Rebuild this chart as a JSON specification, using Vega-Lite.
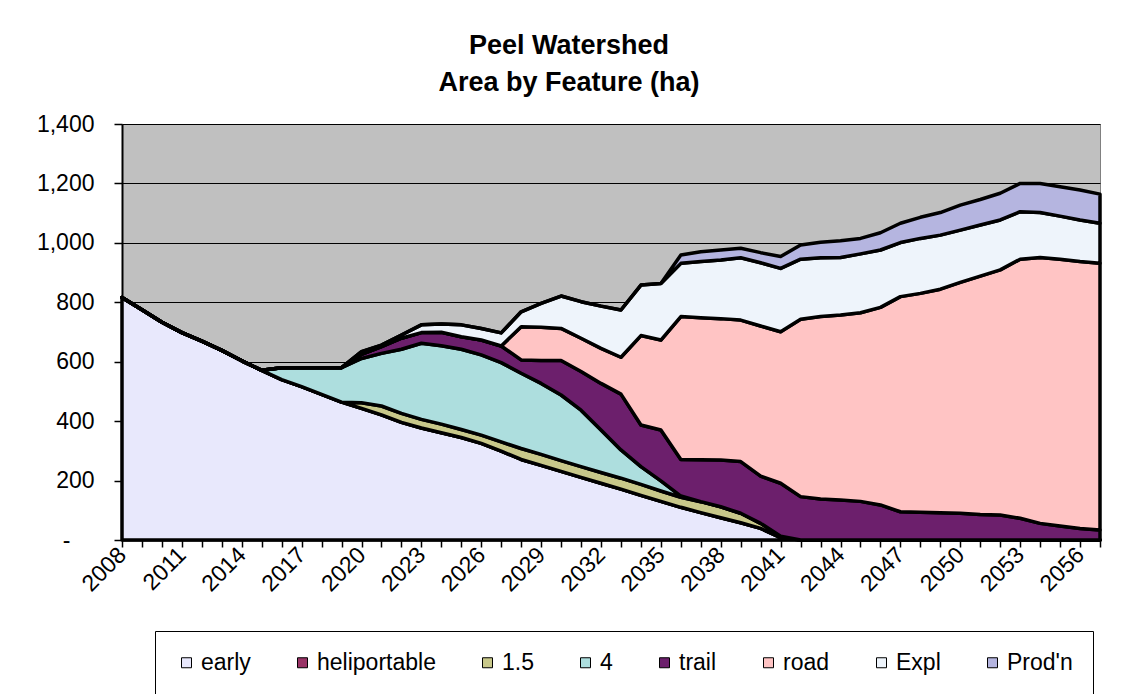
{
  "$schema": "https://vega.github.io/schema/vega-lite/v6.json",
  "width": 978,
  "height": 416,
  "autosize": {"type": "none"},
  "padding": {"left": 122, "top": 124, "right": 38, "bottom": 154},
  "background": "white",
  "config": {
    "font": "Liberation Sans, Arial, sans-serif",
    "view": {"fill": "#C0C0C0", "stroke": "#808080", "strokeWidth": 1}
  },
  "title": {
    "text": ["Peel Watershed", "Area by Feature (ha)"],
    "fontSize": 27,
    "fontWeight": "bold",
    "color": "black",
    "lineHeight": 37,
    "anchor": "middle",
    "frame": "group",
    "dx": -42,
    "offset": 16
  },
  "datasets": {
    "features": [
      {"k": "early", "feature": "early", "rank": 1},
      {"k": "heliportable", "feature": "heliportable", "rank": 2},
      {"k": "p1_5", "feature": "1.5", "rank": 3},
      {"k": "p4", "feature": "4", "rank": 4},
      {"k": "trail", "feature": "trail", "rank": 5},
      {"k": "road", "feature": "road", "rank": 6},
      {"k": "Expl", "feature": "Expl", "rank": 7},
      {"k": "Prodn", "feature": "Prod'n", "rank": 8}
    ]
  },
  "data": {
    "values": [
      {"year": 2008, "early": 816, "heliportable": 0, "p1_5": 0, "p4": 0, "trail": 0, "road": 0, "Expl": 0, "Prodn": 0},
      {"year": 2009, "early": 775, "heliportable": 0, "p1_5": 0, "p4": 0, "trail": 0, "road": 0, "Expl": 0, "Prodn": 0},
      {"year": 2010, "early": 733, "heliportable": 0, "p1_5": 0, "p4": 0, "trail": 0, "road": 0, "Expl": 0, "Prodn": 0},
      {"year": 2011, "early": 698, "heliportable": 0, "p1_5": 0, "p4": 0, "trail": 0, "road": 0, "Expl": 0, "Prodn": 0},
      {"year": 2012, "early": 669, "heliportable": 0, "p1_5": 0, "p4": 0, "trail": 0, "road": 0, "Expl": 0, "Prodn": 0},
      {"year": 2013, "early": 638, "heliportable": 0, "p1_5": 0, "p4": 0, "trail": 0, "road": 0, "Expl": 0, "Prodn": 0},
      {"year": 2014, "early": 603, "heliportable": 0, "p1_5": 0, "p4": 0, "trail": 0, "road": 0, "Expl": 0, "Prodn": 0},
      {"year": 2015, "early": 571, "heliportable": 0, "p1_5": 0, "p4": 0, "trail": 0, "road": 0, "Expl": 0, "Prodn": 0},
      {"year": 2016, "early": 540, "heliportable": 0, "p1_5": 0, "p4": 40, "trail": 0, "road": 0, "Expl": 0, "Prodn": 0},
      {"year": 2017, "early": 516, "heliportable": 0, "p1_5": 0, "p4": 64, "trail": 0, "road": 0, "Expl": 0, "Prodn": 0},
      {"year": 2018, "early": 490, "heliportable": 0, "p1_5": 0, "p4": 90, "trail": 0, "road": 0, "Expl": 0, "Prodn": 0},
      {"year": 2019, "early": 464, "heliportable": 0, "p1_5": 0, "p4": 116, "trail": 0, "road": 0, "Expl": 0, "Prodn": 0},
      {"year": 2020, "early": 443, "heliportable": 0, "p1_5": 19, "p4": 149, "trail": 14, "road": 0, "Expl": 9, "Prodn": 0},
      {"year": 2021, "early": 421, "heliportable": 0, "p1_5": 30, "p4": 177, "trail": 23, "road": 0, "Expl": 5, "Prodn": 0},
      {"year": 2022, "early": 396, "heliportable": 0, "p1_5": 30, "p4": 216, "trail": 37, "road": 0, "Expl": 11, "Prodn": 0},
      {"year": 2023, "early": 377, "heliportable": 0, "p1_5": 29, "p4": 256, "trail": 36, "road": 0, "Expl": 26, "Prodn": 0},
      {"year": 2024, "early": 361, "heliportable": 0, "p1_5": 29, "p4": 264, "trail": 45, "road": 0, "Expl": 28, "Prodn": 0},
      {"year": 2025, "early": 345, "heliportable": 0, "p1_5": 27, "p4": 270, "trail": 42, "road": 0, "Expl": 40, "Prodn": 0},
      {"year": 2026, "early": 325, "heliportable": 0, "p1_5": 28, "p4": 270, "trail": 50, "road": 0, "Expl": 39, "Prodn": 0},
      {"year": 2027, "early": 299, "heliportable": 0, "p1_5": 31, "p4": 267, "trail": 56, "road": 0, "Expl": 44, "Prodn": 0},
      {"year": 2028, "early": 271, "heliportable": 0, "p1_5": 37, "p4": 253, "trail": 45, "road": 112, "Expl": 50, "Prodn": 0},
      {"year": 2029, "early": 251, "heliportable": 0, "p1_5": 37, "p4": 239, "trail": 77, "road": 112, "Expl": 80, "Prodn": 0},
      {"year": 2030, "early": 231, "heliportable": 0, "p1_5": 36, "p4": 221, "trail": 116, "road": 108, "Expl": 109, "Prodn": 0},
      {"year": 2031, "early": 211, "heliportable": 0, "p1_5": 36, "p4": 190, "trail": 130, "road": 112, "Expl": 123, "Prodn": 0},
      {"year": 2032, "early": 191, "heliportable": 0, "p1_5": 36, "p4": 143, "trail": 157, "road": 118, "Expl": 142, "Prodn": 0},
      {"year": 2033, "early": 171, "heliportable": 0, "p1_5": 37, "p4": 95, "trail": 188, "road": 124, "Expl": 159, "Prodn": 0},
      {"year": 2034, "early": 150, "heliportable": 0, "p1_5": 37, "p4": 60, "trail": 140, "road": 301, "Expl": 170, "Prodn": 0},
      {"year": 2035, "early": 130, "heliportable": 0, "p1_5": 35, "p4": 34, "trail": 171, "road": 303, "Expl": 190, "Prodn": 0},
      {"year": 2036, "early": 110, "heliportable": 0, "p1_5": 34, "p4": 4, "trail": 123, "road": 481, "Expl": 179, "Prodn": 28},
      {"year": 2037, "early": 92, "heliportable": 0, "p1_5": 37, "p4": 0, "trail": 141, "road": 478, "Expl": 189, "Prodn": 33},
      {"year": 2038, "early": 75, "heliportable": 0, "p1_5": 37, "p4": 0, "trail": 157, "road": 476, "Expl": 197, "Prodn": 34},
      {"year": 2039, "early": 58, "heliportable": 0, "p1_5": 32, "p4": 0, "trail": 174, "road": 476, "Expl": 210, "Prodn": 32},
      {"year": 2040, "early": 39, "heliportable": 0, "p1_5": 17, "p4": 0, "trail": 159, "road": 505, "Expl": 213, "Prodn": 34},
      {"year": 2041, "early": 8, "heliportable": 0, "p1_5": 5, "p4": 0, "trail": 178, "road": 510, "Expl": 213, "Prodn": 40},
      {"year": 2042, "early": 0, "heliportable": 0, "p1_5": 0, "p4": 0, "trail": 146, "road": 597, "Expl": 202, "Prodn": 48},
      {"year": 2043, "early": 0, "heliportable": 0, "p1_5": 0, "p4": 0, "trail": 138, "road": 614, "Expl": 198, "Prodn": 52},
      {"year": 2044, "early": 0, "heliportable": 0, "p1_5": 0, "p4": 0, "trail": 135, "road": 622, "Expl": 194, "Prodn": 56},
      {"year": 2045, "early": 0, "heliportable": 0, "p1_5": 0, "p4": 0, "trail": 130, "road": 635, "Expl": 198, "Prodn": 52},
      {"year": 2046, "early": 0, "heliportable": 0, "p1_5": 0, "p4": 0, "trail": 118, "road": 665, "Expl": 193, "Prodn": 58},
      {"year": 2047, "early": 0, "heliportable": 0, "p1_5": 0, "p4": 0, "trail": 95, "road": 724, "Expl": 182, "Prodn": 65},
      {"year": 2048, "early": 0, "heliportable": 0, "p1_5": 0, "p4": 0, "trail": 93, "road": 737, "Expl": 185, "Prodn": 71},
      {"year": 2049, "early": 0, "heliportable": 0, "p1_5": 0, "p4": 0, "trail": 92, "road": 752, "Expl": 182, "Prodn": 76},
      {"year": 2050, "early": 0, "heliportable": 0, "p1_5": 0, "p4": 0, "trail": 90, "road": 777, "Expl": 176, "Prodn": 84},
      {"year": 2051, "early": 0, "heliportable": 0, "p1_5": 0, "p4": 0, "trail": 86, "road": 802, "Expl": 172, "Prodn": 86},
      {"year": 2052, "early": 0, "heliportable": 0, "p1_5": 0, "p4": 0, "trail": 84, "road": 825, "Expl": 168, "Prodn": 90},
      {"year": 2053, "early": 0, "heliportable": 0, "p1_5": 0, "p4": 0, "trail": 73, "road": 872, "Expl": 160, "Prodn": 95},
      {"year": 2054, "early": 0, "heliportable": 0, "p1_5": 0, "p4": 0, "trail": 56, "road": 895, "Expl": 151, "Prodn": 98},
      {"year": 2055, "early": 0, "heliportable": 0, "p1_5": 0, "p4": 0, "trail": 47, "road": 898, "Expl": 145, "Prodn": 99},
      {"year": 2056, "early": 0, "heliportable": 0, "p1_5": 0, "p4": 0, "trail": 39, "road": 898, "Expl": 140, "Prodn": 101},
      {"year": 2057, "early": 0, "heliportable": 0, "p1_5": 0, "p4": 0, "trail": 34, "road": 897, "Expl": 135, "Prodn": 98}
    ]
  },
  "transform": [
    {"fold": ["early", "heliportable", "p1_5", "p4", "trail", "road", "Expl", "Prodn"], "as": ["k", "ha"]},
    {"lookup": "k", "from": {"data": {"name": "features"}, "key": "k", "fields": ["feature", "rank"]}}
  ],
  "mark": {"type": "area", "stroke": "black", "strokeWidth": 3.5, "strokeJoin": "round", "opacity": 1, "fillOpacity": 1},
  "encoding": {
    "x": {
      "field": "year",
      "type": "quantitative",
      "scale": {"domain": [2008, 2057], "nice": false, "zero": false},
      "axis": {
        "title": null,
        "values": [2008,2009,2010,2011,2012,2013,2014,2015,2016,2017,2018,2019,2020,2021,2022,2023,2024,2025,2026,2027,2028,2029,2030,2031,2032,2033,2034,2035,2036,2037,2038,2039,2040,2041,2042,2043,2044,2045,2046,2047,2048,2049,2050,2051,2052,2053,2054,2055,2056,2057],
        "labelExpr": "(datum.value - 2008) % 3 === 0 ? datum.value + '' : ''",
        "labelAngle": -45,
        "labelAlign": "right",
        "labelBaseline": "middle",
        "labelFontSize": 23,
        "labelColor": "black",
        "labelPadding": 4,
        "labelOverlap": false,
        "labelFlush": false,
        "domainColor": "black",
        "domainWidth": 2,
        "tickColor": "black",
        "tickSize": 7,
        "tickWidth": 1.5,
        "grid": false
      }
    },
    "y": {
      "field": "ha",
      "type": "quantitative",
      "stack": "zero",
      "scale": {"domain": [0, 1400], "nice": false},
      "axis": {
        "title": null,
        "values": [0, 200, 400, 600, 800, 1000, 1200, 1400],
        "labelExpr": "datum.value === 0 ? '-' : format(datum.value, ',')",
        "labelFontSize": 23,
        "labelColor": "black",
        "labelPadding": {"condition": {"test": "datum.value === 0", "value": 44}, "value": 20},
        "domainColor": "black",
        "domainWidth": 2,
        "tickColor": "black",
        "tickSize": 8,
        "tickWidth": 1.5,
        "grid": true,
        "gridColor": "black",
        "gridWidth": 1
      }
    },
    "color": {
      "field": "feature",
      "type": "nominal",
      "scale": {
        "domain": ["early", "heliportable", "1.5", "4", "trail", "road", "Expl", "Prod'n"],
        "range": ["#E8E8FC", "#993366", "#C8C88A", "#ADDEDE", "#6C1F6C", "#FFC4C4", "#EEF4FB", "#B5B5E0"]
      },
      "legend": {
        "title": null,
        "orient": "none",
        "legendX": 33,
        "legendY": 507,
        "direction": "horizontal",
        "columns": 8,
        "symbolType": "square",
        "symbolSize": 100,
        "symbolStrokeColor": "black",
        "symbolStrokeWidth": 1,
        "symbolOpacity": 1,
        "labelFontSize": 23,
        "labelColor": "black",
        "labelOffset": 3,
        "columnPadding": 40,
        "padding": 20,
        "strokeColor": "black"
      }
    },
    "order": {"field": "rank", "type": "quantitative"}
  }
}
